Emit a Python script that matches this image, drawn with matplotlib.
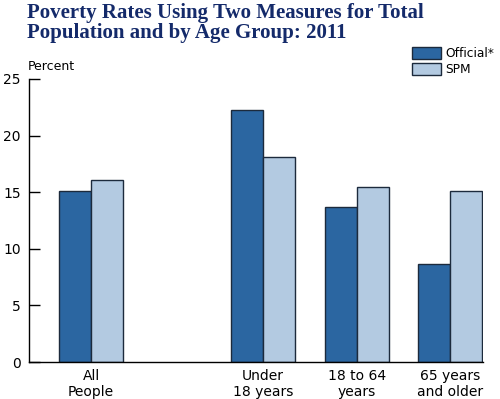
import matplotlib.pyplot as plt
import numpy as np

# data
groups = ['All\nPeople', 'Under\n18 years', '18 to 64\nyears', '65 years\nand older']
official = [15.1, 22.3, 13.7, 8.7]
spm = [16.1, 18.1, 15.5, 15.1]
series_names = ['Official*', 'SPM']
title = 'Poverty Rates Using Two Measures for Total\nPopulation and by Age Group: 2011'

# layout
pos = np.array([0, 1.83, 2.83, 3.82])
w = 0.34
c_off = '#2b66a1'
c_spm = '#b3cae1'
edge = '#1c2a3c'
navy = '#142a6a'

fig = plt.figure(figsize=(5, 3.99), dpi=100)
ax = fig.add_axes([29 / 500, 37 / 399, 454 / 500, 283 / 399])

ax.bar(pos - w / 2, official, w, color=c_off, edgecolor=edge, linewidth=1, label=series_names[0])
ax.bar(pos + w / 2, spm, w, color=c_spm, edgecolor=edge, linewidth=1, label=series_names[1])

ax.set_xlim(-0.66, 4.17)
ax.set_ylim(0, 25)
ax.set_yticks([0, 5, 10, 15, 20, 25])
ax.tick_params(axis='y', direction='in', length=8, width=1, labelsize=10, pad=6)
ax.set_xticks(pos)
ax.set_xticklabels(groups, fontsize=10, linespacing=1.15)
ax.tick_params(axis='x', length=0, pad=5)
for s in ['top', 'right']:
    ax.spines[s].set_visible(False)
for s in ['left', 'bottom']:
    ax.spines[s].set_linewidth(1)

fig.text(28 / 500, 1 - 67 / 399, 'Percent', fontsize=9, va='center', ha='left')
fig.text(27 / 500, 1 - 3 / 399, title, fontsize=15, fontweight='bold', family='Liberation Serif',
         color=navy, va='top', ha='left', linespacing=1.0)

ax.legend(loc='upper left', bbox_to_anchor=(412 / 500, 1 - 47 / 399), bbox_transform=fig.transFigure,
          frameon=False, fontsize=8.8, handlelength=2.4, handleheight=1.1, labelspacing=0.25,
          handletextpad=0.35, borderpad=0, borderaxespad=0)

fig.savefig('out.png', dpi=100)
